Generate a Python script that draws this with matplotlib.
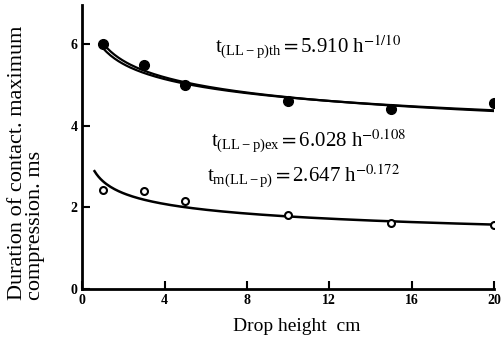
import numpy as np
import matplotlib
matplotlib.use("Agg")
import matplotlib.pyplot as plt

# measured points
h_pts = [1, 3, 5, 10, 15, 20]
t_contact = [6.0, 5.5, 5.0, 4.62, 4.42, 4.55]
t_maxcomp = [2.42, 2.40, 2.16, 1.82, 1.62, 1.57]

# fitted power laws  t = a * h^b
fit_th = (5.910, -0.1)
fit_ex = (6.028, -0.108)
fit_m = (2.647, -0.172)

plt.rcParams["font.family"] = ["Liberation Serif", "DejaVu Serif"]
plt.rcParams["mathtext.fontset"] = "stix"

fig = plt.figure(figsize=(5.01, 3.37), dpi=100)
ax = fig.add_axes([0.164, 0.142, 0.822, 0.842])

h1 = np.linspace(1, 20, 200)
h2 = np.linspace(0.6, 20, 200)
ax.plot(h1, fit_th[0] * h1 ** fit_th[1], color="black", lw=1.6)
ax.plot(h1, fit_ex[0] * h1 ** fit_ex[1], color="black", lw=1.6)
ax.plot(h2, fit_m[0] * h2 ** fit_m[1], color="black", lw=1.8)

ax.plot(h_pts, t_contact, "o", color="black", ms=7, ls="none")
ax.plot(h_pts, t_maxcomp, "o", mfc="white", mec="black", mew=1.5, ms=5, ls="none")

eq_kw = dict(fontsize=15, va="baseline")
ax.text(6.45, 5.78, r"$\mathregular{t_{(LL-p)th}}$$=$5.910 h$^{-1/10}$", **eq_kw)
ax.text(6.25, 3.48, r"$\mathregular{t_{(LL-p)ex}}$$=$6.028 h$^{-0.108}$", **eq_kw)
ax.text(6.05, 2.64, r"$\mathregular{t_{m(LL-p)}}$$=$2.647 h$^{-0.172}$", **eq_kw)

ax.set_xlim(0, 20)
ax.set_ylim(0, 6.95)
ax.set_xticks([0, 4, 8, 12, 16, 20])
ax.set_yticks([0, 2, 4, 6])
ax.tick_params(direction="in", length=6, width=1.5, labelsize=10)
for lab in ax.get_xticklabels() + ax.get_yticklabels():
    lab.set_fontweight("bold")
for s in ["top", "right"]:
    ax.spines[s].set_visible(False)
for s in ["left", "bottom"]:
    ax.spines[s].set_linewidth(2)

ax.set_xlabel("Drop height  cm", fontsize=14, labelpad=1)
ax.xaxis.set_label_coords(0.52, -0.1)
ax.set_ylabel("Duration of contact. maximum\ncompression. ms", fontsize=16,
              linespacing=0.95, ha="left", multialignment="left")
ax.yaxis.set_label_coords(-0.09, -0.04)

fig.savefig("out.png", dpi=100)
